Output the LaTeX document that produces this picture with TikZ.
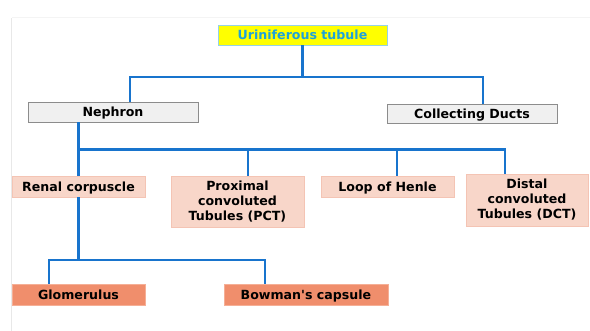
\documentclass[tikz,border=0pt]{standalone}
\usepackage{fontspec}
\setmainfont{DejaVu Sans}[Ligatures=TeXOff]
\definecolor{lineblue}{RGB}{24,116,205}
\definecolor{topfill}{RGB}{255,255,0}
\definecolor{topborder}{RGB}{150,210,230}
\definecolor{toptext}{RGB}{30,162,218}
\definecolor{grayfill}{RGB}{240,240,240}
\definecolor{grayborder}{RGB}{140,140,140}
\definecolor{pinkfill}{RGB}{248,214,201}
\definecolor{pinkborder}{RGB}{244,196,180}
\definecolor{salmonfill}{RGB}{240,142,108}
\definecolor{salmonborder}{RGB}{245,175,150}
\definecolor{framegray}{RGB}{232,232,232}
\definecolor{framegray2}{RGB}{244,244,244}
\begin{document}
\begin{tikzpicture}[x=1pt,y=-1pt,
  every node/.style={inner sep=0pt, align=center, font=\fontsize{12.6}{15}\selectfont\bfseries},
  oneline/.style={text height=9.2pt, text depth=0pt},
  topbox/.style={oneline, draw=topborder, fill=topfill, text=toptext, line width=0.8pt, minimum width=169pt, minimum height=20pt},
  graybox/.style={oneline, draw=grayborder, fill=grayfill, line width=0.8pt, minimum width=170pt, minimum height=20pt},
  pinkbox/.style={draw=pinkborder, fill=pinkfill, line width=0.6pt},
  salmonbox/.style={oneline, draw=salmonborder, fill=salmonfill, line width=0.6pt, minimum height=21pt},
  conn/.style={draw=lineblue, line width=2.7pt}
]
\useasboundingbox (0,0) rectangle (590,331);
\draw[framegray, line width=1pt] (11.5,331) -- (11.5,18);
\draw[framegray2, line width=1pt] (11.5,18) -- (590,18);

\node[topbox] (top) at (302.5,35) {Uriniferous tubule};
\node[graybox] (neph) at (113,112) {Nephron};
\node[graybox, minimum height=19pt] (coll) at (472,113.5) {Collecting Ducts};
\node[pinkbox, oneline, minimum width=133pt, minimum height=21pt] (renal) at (78.5,186.5) {Renal corpuscle};
\node[pinkbox, minimum width=133pt, minimum height=51pt] (pct) at (237.5,201.5) {Proximal\\convoluted\\Tubules (PCT)};
\node[pinkbox, oneline, minimum width=133pt, minimum height=21pt] (loop) at (387.5,186.5) {Loop of Henle};
\node[pinkbox, minimum width=122pt, minimum height=52pt] (dct) at (527,200) {Distal\\convoluted\\Tubules (DCT)};
\node[salmonbox, minimum width=133pt] (glom) at (78.5,294.5) {Glomerulus};
\node[salmonbox, minimum width=164pt] (bow) at (306,294.5) {Bowman's capsule};

\coordinate (j1) at (302.5,77);
\coordinate (j2) at (78.5,149.5);
\coordinate (j3) at (78.5,260);

\path[conn] (top.south) -- (j1);
\path[conn] ([xshift=17pt]neph.north) |- (j1) -| ([xshift=11pt]coll.north);
\path[conn] ([xshift=-34.5pt]neph.south) -- (renal.north);
\path[conn] (j2) -| ([xshift=-22pt]dct.north);
\path[conn] ([xshift=10.5pt]pct.north) -- ([xshift=10.5pt]pct.north |- j2);
\path[conn] ([xshift=9.5pt]loop.north) -- ([xshift=9.5pt]loop.north |- j2);
\path[conn] (renal.south) -- (j3);
\path[conn] ([xshift=-29.5pt]glom.north) |- (j3) -| ([xshift=-41pt]bow.north);
\end{tikzpicture}
\end{document}
